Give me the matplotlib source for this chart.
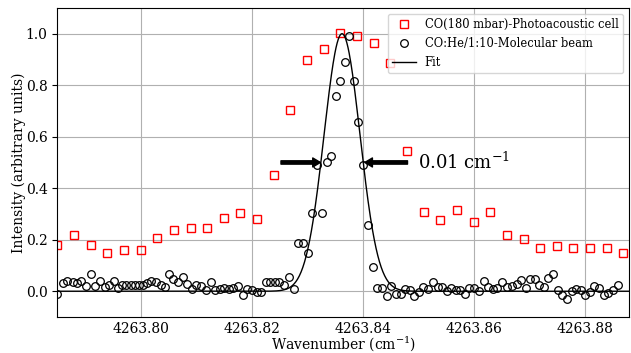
import numpy as np
import matplotlib
matplotlib.use("Agg")
import matplotlib.pyplot as plt

# =========================
# data
# =========================

# photoacoustic cell (red squares)
pa_x = [4263.785, 4263.788, 4263.791, 4263.794, 4263.797, 4263.800, 4263.803,
        4263.806, 4263.809, 4263.812, 4263.815, 4263.818, 4263.821, 4263.824,
        4263.827, 4263.830, 4263.833, 4263.836, 4263.839, 4263.842, 4263.845,
        4263.848, 4263.851, 4263.854, 4263.857, 4263.860, 4263.863, 4263.866,
        4263.869, 4263.872, 4263.875, 4263.878, 4263.881, 4263.884, 4263.887]
pa_y = [0.180, 0.218, 0.180, 0.147, 0.160, 0.160, 0.205, 0.237, 0.244, 0.247,
        0.283, 0.305, 0.279, 0.451, 0.705, 0.899, 0.941, 1.003, 0.990, 0.964,
        0.887, 0.546, 0.309, 0.275, 0.315, 0.269, 0.309, 0.218, 0.204, 0.169,
        0.176, 0.169, 0.169, 0.167, 0.150]

# molecular beam (black circles)
mb_x = [4263.78500, 4263.78601, 4263.78680, 4263.78781, 4263.78860, 4263.78932,
        4263.79023, 4263.79100, 4263.79185, 4263.79262, 4263.79353, 4263.79430,
        4263.79515, 4263.79592, 4263.79672, 4263.79744, 4263.79821, 4263.79894,
        4263.79971, 4263.80043, 4263.80123, 4263.80195, 4263.80272, 4263.80362,
        4263.80435, 4263.80512, 4263.80584, 4263.80674, 4263.80765, 4263.80837,
        4263.80934, 4263.81006, 4263.81096, 4263.81174, 4263.81264, 4263.81349,
        4263.81426, 4263.81504, 4263.81594, 4263.81666, 4263.81756, 4263.81847,
        4263.81926, 4263.82016, 4263.82099, 4263.82179, 4263.82269, 4263.82341,
        4263.82418, 4263.82496, 4263.82581, 4263.82676, 4263.82766, 4263.82839,
        4263.82929, 4263.83019, 4263.83098, 4263.83176, 4263.83261, 4263.83351,
        4263.83428, 4263.83518, 4263.83591, 4263.83681, 4263.83758, 4263.83849,
        4263.83921, 4263.84011, 4263.84101, 4263.84180, 4263.84263, 4263.84343,
        4263.84433, 4263.84510, 4263.84601, 4263.84685, 4263.84763, 4263.84853,
        4263.84931, 4263.85015, 4263.85093, 4263.85183, 4263.85262, 4263.85353,
        4263.85435, 4263.85515, 4263.85592, 4263.85677, 4263.85755, 4263.85845,
        4263.85922, 4263.86007, 4263.86097, 4263.86188, 4263.86265, 4263.86344,
        4263.86427, 4263.86518, 4263.86608, 4263.86687, 4263.86777, 4263.86855,
        4263.86940, 4263.87017, 4263.87107, 4263.87185, 4263.87270, 4263.87347,
        4263.87437, 4263.87517, 4263.87600, 4263.87679, 4263.87769, 4263.87847,
        4263.87931, 4263.88009, 4263.88099, 4263.88177, 4263.88261, 4263.88352,
        4263.88429, 4263.88519, 4263.88609]
mb_y = [-0.010, 0.031, 0.041, 0.035, 0.031, 0.041, 0.019, 0.065, 0.019, 0.038,
        0.016, 0.024, 0.041, 0.013, 0.026, 0.026, 0.026, 0.026, 0.026, 0.026,
        0.032, 0.041, 0.035, 0.026, 0.016, 0.065, 0.048, 0.035, 0.054, 0.028,
        0.009, 0.026, 0.022, 0.003, 0.035, 0.005, 0.009, 0.013, 0.009, 0.013,
        0.022, -0.014, 0.009, 0.003, -0.004, -0.004, 0.035, 0.035, 0.035, 0.035,
        0.026, 0.054, 0.009, 0.189, 0.189, 0.150, 0.305, 0.490, 0.305, 0.503,
        0.524, 0.757, 0.815, 0.889, 0.990, 0.815, 0.656, 0.492, 0.257, 0.096,
        0.013, 0.013, -0.017, 0.022, -0.010, -0.010, 0.007, 0.003, -0.017, -0.004,
        0.016, 0.009, 0.035, 0.016, 0.018, 0.000, 0.013, 0.005, 0.003, -0.010,
        0.013, 0.013, 0.000, 0.039, 0.018, 0.009, 0.013, 0.036, 0.016, 0.019,
        0.028, 0.045, 0.013, 0.049, 0.049, 0.026, 0.017, 0.052, 0.067, 0.004,
        -0.013, -0.030, 0.000, 0.010, 0.003, -0.013, -0.003, 0.019, 0.013, -0.013,
        -0.007, 0.003, 0.026]

# gaussian fit parameters
fit_center = 4263.8363
fit_sigma = 0.00324
fit_amp = 1.0

# =========================
# plot
# =========================

plt.rcParams["font.family"] = "serif"
plt.rcParams["mathtext.fontset"] = "dejavuserif"

fig = plt.figure(figsize=(6.31, 3.53), dpi=100)
ax = fig.add_axes([0.0908, 0.102, 0.906, 0.8755])

fit_x = np.linspace(4263.785, 4263.888, 1000)
fit_y = fit_amp * np.exp(-0.5 * ((fit_x - fit_center) / fit_sigma) ** 2)

ax.plot(pa_x, pa_y, "s", mfc="none", mec="red", ms=5.5, mew=1,
        label="CO(180 mbar)-Photoacoustic cell")
ax.plot(mb_x, mb_y, "o", mfc="none", mec="black", ms=5.5, mew=0.9,
        label="CO:He/1:10-Molecular beam")
ax.plot(fit_x, fit_y, "-", color="black", lw=1, label="Fit")

# FWHM arrows
arrow = dict(facecolor="black", width=2.4, headwidth=6.5, headlength=5.5)
ax.annotate("", xy=(4263.8324, 0.5), xytext=(4263.8253, 0.5), arrowprops=arrow)
ax.annotate("", xy=(4263.8404, 0.5), xytext=(4263.8481, 0.5), arrowprops=arrow)
ax.text(4263.8500, 0.5, "0.01 cm$^{-1}$", fontsize=13, va="center")

ax.set_xlim(4263.785, 4263.888)
ax.set_ylim(-0.1, 1.1)
ax.set_xticks([4263.80, 4263.82, 4263.84, 4263.86, 4263.88])
ax.set_xticklabels(["4263.80", "4263.82", "4263.84", "4263.86", "4263.88"])
ax.set_yticks([0.0, 0.2, 0.4, 0.6, 0.8, 1.0])
ax.tick_params(axis="x", length=0)
ax.set_xlabel("Wavenumber (cm$^{-1}$)", labelpad=-1)
ax.set_ylabel("Intensity (arbitrary units)", labelpad=0)
ax.grid(True)
ax.legend(loc="upper right", fontsize=8.3)

fig.savefig("out.png", dpi=100)
